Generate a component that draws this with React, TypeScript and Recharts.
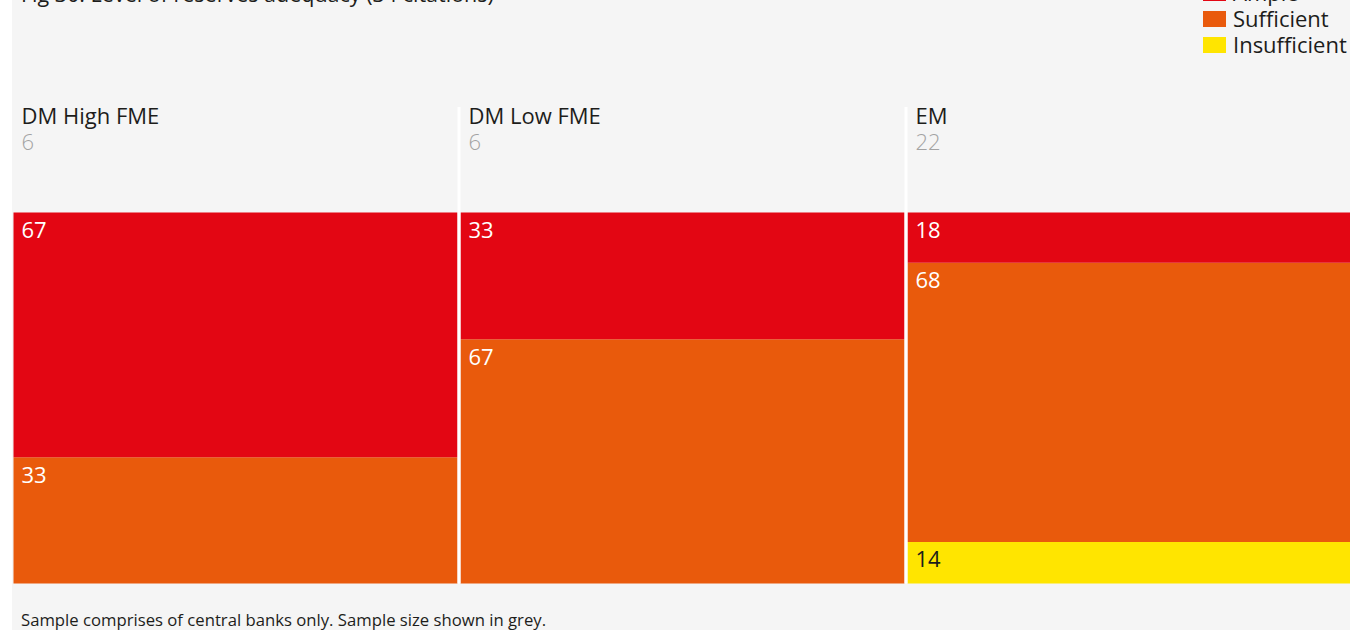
import { Bar, BarChart, LabelList, ReferenceLine, XAxis, YAxis } from "recharts"

const categories = ["DM High FME", "DM Low FME", "EM"]
const sampleSizes = [6, 6, 22]

// segment heights as drawn in the columns (% of column)
const ample = [66, 34.2, 13.6]
const sufficient = [34, 65.8, 75.2]
const insufficient = [0, 0, 11.2]

// numbers printed on the segments
const ampleLabels = [67, 33, 18]
const sufficientLabels = [33, 67, 68]
const insufficientLabels = [null, null, 14]

const legendNames = ["Ample", "Sufficient", "Insufficient"]

const RED = "#e30613"
const ORANGE = "#e95a0c"
const YELLOW = "#ffe500"
const PANEL = "#f5f5f5"
const INK = "#1d1d1b"

const CHART_W = 1341
const BAND = CHART_W / 3

const data = categories.map((name, i) => ({
  name,
  ample: ample[i],
  sufficient: sufficient[i],
  insufficient: insufficient[i],
  ampleLabel: ampleLabels[i],
  sufficientLabel: sufficientLabels[i],
  insufficientLabel: insufficientLabels[i],
}))

function HeaderTick(props: any) {
  const { x, payload } = props
  const i = categories.indexOf(payload.value)
  const left = Number(x) - BAND / 2 + 9.5
  return (
    <g>
      <text x={left} y={124} fontSize={22} fill={INK}>
        {payload.value}
      </text>
      <text x={left} y={150} fontSize={22} fill="#a3a3a3" fontWeight={300}>
        {sampleSizes[i]}
      </text>
    </g>
  )
}

const segmentLabel = (color: string) => (props: any) => {
  const { x, y, value } = props
  if (value == null) return null
  return (
    <text x={Number(x) + 8} y={Number(y) + 25.5} fontSize={22} fill={color}>
      {value}
    </text>
  )
}

export default function App() {
  const colors = [RED, ORANGE, YELLOW]
  return (
    <div
      style={{
        position: "absolute",
        left: 0,
        top: 0,
        width: 1350,
        height: 630,
        overflow: "hidden",
        background: "#fff",
        fontFamily: "'Open Sans', sans-serif",
      }}
    >
      <div style={{ position: "absolute", left: 12, top: 0, width: CHART_W, height: 630, background: PANEL }}>
        <BarChart
          width={CHART_W}
          height={630}
          data={data}
          margin={{ top: 106, right: 0, bottom: 46.5, left: 0 }}
          barCategoryGap={1.5}
        >
          <XAxis
            dataKey="name"
            orientation="top"
            height={1}
            axisLine={false}
            tickLine={false}
            interval={0}
            tick={<HeaderTick />}
          />
          {/* headroom above 100% leaves space for the column headers */}
          <YAxis hide domain={[0, 128.4]} />
          <Bar dataKey="insufficient" stackId="a" fill={YELLOW} isAnimationActive={false}>
            <LabelList dataKey="insufficientLabel" content={segmentLabel(INK)} />
          </Bar>
          <Bar dataKey="sufficient" stackId="a" fill={ORANGE} isAnimationActive={false}>
            <LabelList dataKey="sufficientLabel" content={segmentLabel("#ffffff")} />
          </Bar>
          <Bar dataKey="ample" stackId="a" fill={RED} isAnimationActive={false}>
            <LabelList dataKey="ampleLabel" content={segmentLabel("#ffffff")} />
          </Bar>
          {/* white separators at the left edge of each following column */}
          {categories.slice(1).map((c) => (
            <ReferenceLine key={c} x={c} position="start" stroke="#ffffff" strokeWidth={3} />
          ))}
        </BarChart>
      </div>
      <svg width={1350} height={630} style={{ position: "absolute", left: 0, top: 0, pointerEvents: "none" }}>
        <text x={21} y={2} fontSize={21.5} fill={INK}>
          Fig 30: Level of reserves adequacy (34 citations)
        </text>
        {legendNames.map((name, i) => (
          <g key={name}>
            <rect x={1203} y={-15 + i * 26} width={23} height={16} fill={colors[i]} />
            <text x={1233} y={1 + i * 26} fontSize={22} fill={INK}>
              {name}
            </text>
          </g>
        ))}
        <text x={21} y={626} fontSize={16.7} fill={INK}>
          Sample comprises of central banks only. Sample size shown in grey.
        </text>
      </svg>
    </div>
  )
}
